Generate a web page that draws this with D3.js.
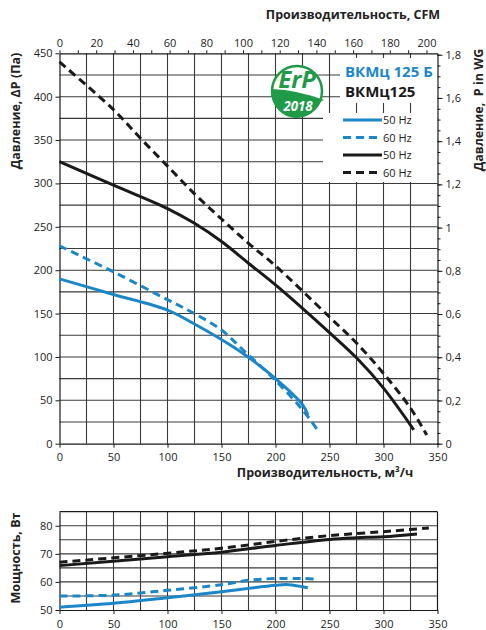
<!DOCTYPE html>
<html>
<head>
<meta charset="utf-8">
<script src="https://d3js.org/d3.v7.min.js"></script>
<style>
  body { margin: 0; background: #fff; }
  svg text { font-family: "Open Sans", "DejaVu Sans", sans-serif; fill: #222; }
</style>
</head>
<body>
<svg id="chart" width="486" height="630"></svg>
<script>
// pressure curves, m3/h -> Pa
var flow50B = [0, 50, 100, 125, 150, 170, 200, 225, 230];
var press50B = [190, 172, 154, 138, 120, 104, 75, 45, 33];
var flow60B = [0, 50, 100, 125, 150, 170, 200, 225, 240];
var press60B = [228, 198, 166, 150, 131, 108, 73, 39, 14];
var flow50 = [0, 50, 100, 125, 150, 175, 200, 225, 250, 275, 300, 328];
var press50 = [325, 298, 271, 254, 233, 208, 183, 156, 128, 99, 64, 16];
var flow60 = [0, 50, 75, 100, 125, 150, 175, 200, 250, 275, 300, 325, 340];
var press60 = [440, 385, 352, 320, 288, 259, 231, 205, 146, 116, 81, 41, 10];

// power curves, m3/h -> W
var pwrFlow50B = [0, 50, 100, 150, 175, 200, 210, 225, 230];
var pwr50B = [51, 52.4, 54.4, 56.5, 57.7, 58.8, 59.1, 58.3, 57.9];
var pwrFlow60B = [0, 50, 100, 150, 175, 200, 225, 240];
var pwr60B = [55, 55.3, 57, 59, 60.6, 61.2, 61.2, 61];
var pwrFlow50 = [0, 100, 150, 200, 250, 275, 300, 331];
var pwr50 = [65.8, 69, 70.6, 73, 75.1, 75.7, 76.1, 77.1];
var pwrFlow60 = [0, 100, 150, 200, 250, 300, 342];
var pwr60 = [67, 70.2, 72, 74.4, 76.5, 77.9, 79.2];

var flowTicks = [0, 50, 100, 150, 200, 250, 300, 350];
var pressTicks = [0, 50, 100, 150, 200, 250, 300, 350, 400, 450];
var cfmTicks = [0, 20, 40, 60, 80, 100, 120, 140, 160, 180, 200];
var inwgTicks = [0, 0.2, 0.4, 0.6, 0.8, 1, 1.2, 1.4, 1.6, 1.8];
var powerTicks = [50, 60, 70, 80];
var legendNames = ["ВКМц 125 Б", "ВКМц125"];
var legendItems = ["50 Hz", "60 Hz", "50 Hz", "60 Hz"];

var blue = "#1b87c9", black = "#1a1a1a", green = "#1f9a48", gridColor = "#3a3a3a";

var svg = d3.select("#chart");

var x = d3.scaleLinear().domain([0, 350]).range([59.5, 437.5]);
var y = d3.scaleLinear().domain([0, 450]).range([443.7, 53.3]);
var xCfm = d3.scaleLinear().domain([0, 350 / 1.699]).range(x.range());
var yWg = d3.scaleLinear().domain([0, 450 / 249.09]).range(y.range());
var yP = d3.scaleLinear().domain([50, 85]).range([610, 511.7]);

var fmtComma = function(d) { return String(d).replace(".", ","); };

// grids
var grid = svg.append("g").attr("stroke", gridColor).attr("stroke-width", 1.1);
grid.selectAll(".gx").data(d3.range(25, 350, 25)).enter().append("line")
    .attr("x1", d => x(d)).attr("x2", d => x(d)).attr("y1", y(450)).attr("y2", y(0));
grid.selectAll(".gy").data(d3.range(25, 450, 25)).enter().append("line")
    .attr("x1", x(0)).attr("x2", x(350)).attr("y1", d => y(d)).attr("y2", d => y(d));

var gridP = svg.append("g").attr("stroke", gridColor).attr("stroke-width", 1.1);
gridP.selectAll(".gx").data(d3.range(25, 350, 25)).enter().append("line")
    .attr("x1", d => x(d)).attr("x2", d => x(d)).attr("y1", yP(85)).attr("y2", yP(50));
gridP.selectAll(".gy").data(d3.range(55, 85, 5)).enter().append("line")
    .attr("x1", x(0)).attr("x2", x(350)).attr("y1", d => yP(d)).attr("y2", d => yP(d));

// legend backgrounds
svg.append("rect").attr("x", 340).attr("y", 58).attr("width", x(350) - 340).attr("height", 45).attr("fill", "#fff");
svg.append("rect").attr("x", 323).attr("y", 113).attr("width", x(350) - 323).attr("height", 69).attr("fill", "#fff");

// axes
function styleAxis(g) {
  g.selectAll("path").attr("stroke", black).attr("stroke-width", 1.2);
  g.selectAll("line").attr("stroke", black);
  g.selectAll("text").attr("font-size", 11).attr("fill", "#222")
    .attr("font-family", "'Open Sans', sans-serif");
}

svg.append("g").attr("transform", "translate(0," + y(0) + ")")
   .call(d3.axisBottom(x).tickValues(flowTicks).tickSize(4).tickPadding(6).tickSizeOuter(0))
   .call(styleAxis);
svg.append("g").attr("transform", "translate(" + x(0) + ",0)")
   .call(d3.axisLeft(y).tickValues(pressTicks).tickSize(4).tickPadding(3).tickSizeOuter(0))
   .call(styleAxis);
svg.append("g").attr("transform", "translate(0," + y(450) + ")")
   .call(d3.axisTop(xCfm).tickValues(d3.range(0, 206, 10)).tickSize(3).tickFormat("").tickSizeOuter(0))
   .call(styleAxis);
svg.append("g").attr("transform", "translate(0," + y(450) + ")")
   .call(d3.axisTop(xCfm).tickValues(cfmTicks).tickSize(0).tickPadding(6))
   .call(styleAxis).select("path").remove();
svg.append("g").attr("transform", "translate(" + x(350) + ",0)")
   .call(d3.axisRight(yWg).tickValues(d3.range(0, 1.81, 0.05)).tickSize(3).tickFormat("").tickSizeOuter(0))
   .call(styleAxis);
svg.append("g").attr("transform", "translate(" + x(350) + ",0)")
   .call(d3.axisRight(yWg).tickValues(inwgTicks).tickSize(5).tickPadding(3).tickFormat(fmtComma).tickSizeOuter(0))
   .call(styleAxis).select("path").remove();

// power axes
svg.append("g").attr("transform", "translate(0," + yP(50) + ")")
   .call(d3.axisBottom(x).tickValues(flowTicks).tickSize(4).tickPadding(6).tickSizeOuter(0))
   .call(styleAxis);
svg.append("g").attr("transform", "translate(" + x(0) + ",0)")
   .call(d3.axisLeft(yP).tickValues(powerTicks).tickSize(4).tickPadding(3).tickSizeOuter(0))
   .call(styleAxis);
svg.append("line").attr("x1", x(0)).attr("x2", x(350)).attr("y1", yP(85)).attr("y2", yP(85))
   .attr("stroke", black).attr("stroke-width", 1.2);
svg.append("line").attr("x1", x(350)).attr("x2", x(350)).attr("y1", yP(85)).attr("y2", yP(50))
   .attr("stroke", black).attr("stroke-width", 1.2);

// curves
var curveLine = d3.line().curve(d3.curveCatmullRom.alpha(0.5));

function drawCurve(xs, ys, ysc, color, dashed) {
  var pts = xs.map((d, i) => [x(d), ysc(ys[i])]);
  svg.append("path").attr("d", curveLine(pts))
     .attr("fill", "none").attr("stroke", color).attr("stroke-width", 3)
     .attr("stroke-dasharray", dashed ? "8,5" : null);
}

drawCurve(flow50, press50, y, black, false);
drawCurve(flow60, press60, y, black, true);
drawCurve(flow50B, press50B, y, blue, false);
drawCurve(flow60B, press60B, y, blue, true);

drawCurve(pwrFlow60, pwr60, yP, black, true);
drawCurve(pwrFlow50, pwr50, yP, black, false);
drawCurve(pwrFlow60B, pwr60B, yP, blue, true);
drawCurve(pwrFlow50B, pwr50B, yP, blue, false);

// titles
svg.append("text").attr("x", 353).attr("y", 19).attr("text-anchor", "middle")
   .attr("font-size", 12.5).attr("font-weight", "bold").text("Производительность, CFM");
svg.append("text").attr("x", 325).attr("y", 477).attr("text-anchor", "middle")
   .attr("font-size", 12.5).attr("font-weight", "bold").text("Производительность, м³/ч");
svg.append("text").attr("transform", "translate(20,111) rotate(-90)").attr("text-anchor", "middle")
   .attr("font-size", 12.5).attr("font-weight", "bold").text("Давление, ΔP (Па)");
svg.append("text").attr("transform", "translate(483,110) rotate(-90)").attr("text-anchor", "middle")
   .attr("font-size", 12.5).attr("font-weight", "bold").style("white-space", "pre")
   .text("Давление,  P in WG");
svg.append("text").attr("transform", "translate(20,558) rotate(-90)").attr("text-anchor", "middle")
   .attr("font-size", 12.5).attr("font-weight", "bold").text("Мощность, Вт");

// legend
svg.append("text").attr("x", 345).attr("y", 77).attr("font-size", 15).attr("font-weight", "bold")
   .style("fill", blue).text(legendNames[0]);
svg.append("text").attr("x", 345).attr("y", 97).attr("font-size", 15).attr("font-weight", "bold")
   .style("fill", black).text(legendNames[1]);

var legColors = [blue, blue, black, black];
var leg = svg.append("g").selectAll("g").data(legendItems).enter().append("g")
   .attr("transform", (d, i) => "translate(0," + (120 + i * 17.5) + ")");
leg.append("line").attr("x1", 343).attr("x2", 382).attr("y1", 0).attr("y2", 0)
   .attr("stroke", (d, i) => legColors[i]).attr("stroke-width", 3)
   .attr("stroke-dasharray", (d, i) => i % 2 ? "8,5" : null);
leg.append("text").attr("x", 383).attr("y", 4).attr("font-size", 11).text(d => d);

// ErP logo
var logo = svg.append("g").attr("transform", "translate(297,91)");
logo.append("circle").attr("r", 25).attr("fill", "#fff").attr("stroke", green).attr("stroke-width", 2.5);
logo.append("path").attr("fill", green)
    .attr("d", "M-25,-2 Q0,-1 27,9 L23,11 A25,25 0 0 1 -25,-2 Z");
logo.append("text").attr("x", 0).attr("y", -3).attr("text-anchor", "middle")
    .attr("font-size", 24).attr("font-weight", "bold").attr("font-style", "italic")
    .style("fill", green).text("ErP");
logo.append("text").attr("x", 1).attr("y", 20).attr("text-anchor", "middle")
    .attr("font-size", 14).attr("font-weight", "bold").attr("font-style", "italic")
    .attr("textLength", 29).attr("lengthAdjust", "spacingAndGlyphs")
    .style("fill", "#fff").text("2018");
</script>
</body>
</html>
